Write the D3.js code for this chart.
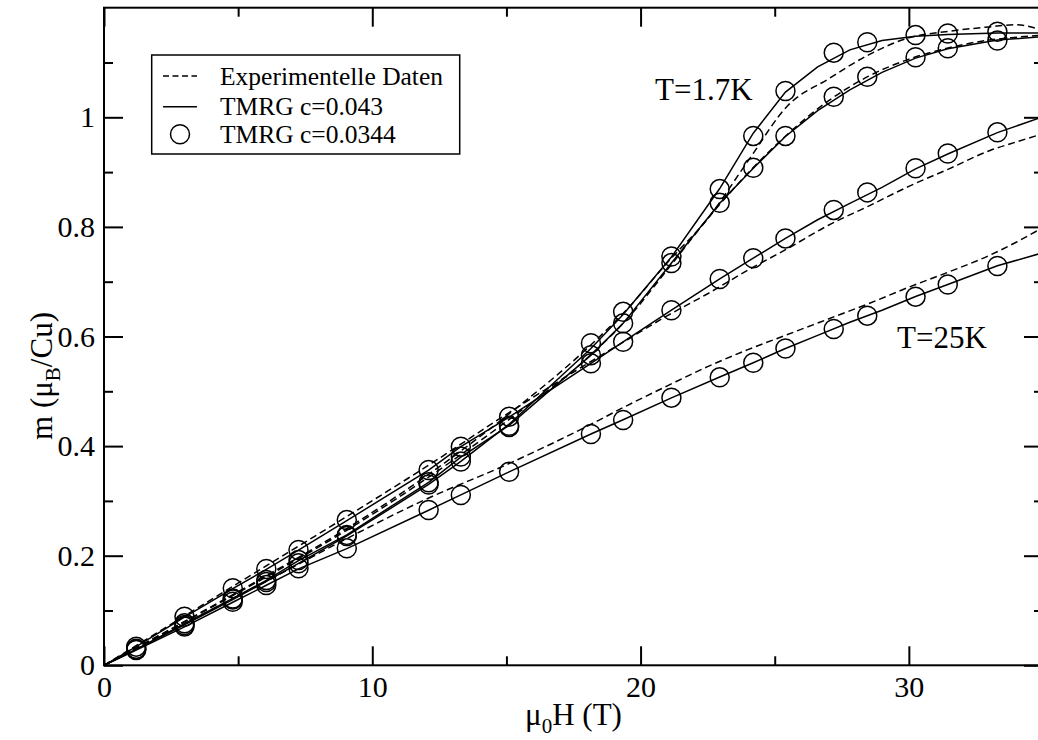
<!DOCTYPE html>
<html>
<head>
<meta charset="utf-8">
<script src="https://cdn.jsdelivr.net/npm/d3@7"></script>
<style>
  html, body { margin: 0; padding: 0; background: #fff; }
  svg { display: block; }
  text { font-family: "Liberation Serif", "Times New Roman", serif; fill: #000; }
</style>
</head>
<body>
<svg id="chart" width="1038" height="740"></svg>
<script>
// Field values (T) at which the TMRG c=0.0344 points were computed
const circleField = [1.2, 3.0, 4.8, 6.05, 7.25, 9.05, 12.1, 13.3, 15.1, 18.15, 19.35, 21.15, 22.95, 24.2, 25.4, 27.2, 28.45, 30.25, 31.45, 33.3];
// TMRG c=0.0344 magnetization (muB/Cu)
const circleT17 = [0.030, 0.0735, 0.120, 0.152, 0.186, 0.236, 0.330, 0.372, 0.435, 0.5876, 0.645, 0.746, 0.869, 0.966, 1.048, 1.118, 1.137, 1.150, 1.153, 1.156];
const circleT2 = [0.029, 0.0766, 0.122, 0.1556, 0.192, 0.238, 0.334, 0.381, 0.437, 0.566, 0.624, 0.734, 0.844, 0.908, 0.966, 1.0376, 1.074, 1.1095, 1.126, 1.140];
const circleT3 = [0.034, 0.0887, 0.1405, 0.1757, 0.2104, 0.265, 0.3564, 0.399, 0.4537, 0.551, 0.5905, 0.648, 0.705, 0.7427, 0.779, 0.831, 0.863, 0.907, 0.934, 0.9726];
const circleT25 = [0.028, 0.0706, 0.116, 0.1465, 0.177, 0.2135, 0.2834, 0.3108, 0.3533, 0.422, 0.4476, 0.4884, 0.5255, 0.552, 0.578, 0.6137, 0.638, 0.6727, 0.695, 0.7287];

// TMRG c=0.043 curves
const tmrgField = [0, 1.2, 3.0, 4.8, 6.05, 7.25, 9.05, 12.1, 13.3, 15.1, 18.15, 19.35, 21.15, 22.95, 24.2, 25.4, 26.6, 27.8, 29.0, 30.25, 31.45, 33.3, 35];
const tmrgT17 = [0, 0.029, 0.074, 0.120, 0.153, 0.186, 0.236, 0.330, 0.372, 0.440, 0.578, 0.640, 0.745, 0.870, 0.971, 1.046, 1.092, 1.123, 1.140, 1.148, 1.151, 1.154, 1.154];
const tmrgT2 = [0, 0.029, 0.076, 0.122, 0.155, 0.191, 0.238, 0.334, 0.380, 0.438, 0.566, 0.624, 0.734, 0.843, 0.907, 0.965, 1.012, 1.050, 1.082, 1.108, 1.125, 1.141, 1.147];
const tmrgT3 = [0, 0.034, 0.088, 0.140, 0.175, 0.210, 0.264, 0.356, 0.399, 0.453, 0.551, 0.590, 0.648, 0.705, 0.743, 0.779, 0.813, 0.843, 0.872, 0.906, 0.933, 0.972, 1.001];
const tmrgT25 = [0, 0.028, 0.070, 0.115, 0.146, 0.176, 0.213, 0.283, 0.311, 0.353, 0.422, 0.448, 0.488, 0.526, 0.552, 0.578, 0.602, 0.626, 0.648, 0.673, 0.695, 0.729, 0.753];

// Experimental magnetization curves
const expField = [0, 3, 6, 9, 12, 15, 18, 19.5, 21, 22.5, 24, 25.5, 27, 28.5, 30, 31.5, 33, 34, 35];
const expT17 = [0, 0.080, 0.162, 0.248, 0.345, 0.455, 0.578, 0.650, 0.735, 0.815, 0.920, 1.022, 1.070, 1.114, 1.145, 1.157, 1.165, 1.169, 1.158];
const expT2 = [0, 0.079, 0.160, 0.245, 0.340, 0.445, 0.560, 0.632, 0.722, 0.815, 0.898, 0.970, 1.030, 1.075, 1.106, 1.127, 1.141, 1.146, 1.150];
const expT3 = [0, 0.090, 0.180, 0.270, 0.362, 0.458, 0.550, 0.594, 0.638, 0.678, 0.721, 0.761, 0.803, 0.838, 0.874, 0.906, 0.939, 0.955, 0.970];
const expT25 = [0, 0.076, 0.152, 0.230, 0.303, 0.366, 0.436, 0.474, 0.510, 0.545, 0.576, 0.604, 0.632, 0.660, 0.690, 0.718, 0.748, 0.772, 0.799];

// Axis ticks and labels
const xMajor = [0, 10, 20, 30];
const xMinor = [5, 15, 25, 35];
const yMajor = [0, 0.2, 0.4, 0.6, 0.8, 1.0];
const yMinor = [0.1, 0.3, 0.5, 0.7, 0.9, 1.1];
const legendLabels = ["Experimentelle Daten", "TMRG c=0.043", "TMRG c=0.0344"];
const curveLabels = [{text: "T=1.7K", x: 655, y: 100}, {text: "T=25K", x: 897, y: 348}];

const svg = d3.select("#chart");
const plotLeft = 104, plotRight = 1043, plotTop = 7.7, plotBottom = 665.3;
const x = d3.scaleLinear().domain([0, 35]).range([plotLeft, plotRight]);
const y = d3.scaleLinear().domain([0, 1.2]).range([plotBottom, plotTop]);

svg.append("defs").append("clipPath").attr("id", "plotClip")
  .append("rect").attr("x", plotLeft).attr("y", plotTop)
  .attr("width", plotRight - plotLeft).attr("height", plotBottom - plotTop);

const plot = svg.append("g").attr("clip-path", "url(#plotClip)");

const line = d3.line().x(d => x(d[0])).y(d => y(d[1]));
const smooth = d3.line().x(d => x(d[0])).y(d => y(d[1])).curve(d3.curveMonotoneX);

// experimental (dashed)
[expT17, expT2, expT3, expT25].forEach(vals => {
  plot.append("path")
    .datum(expField.map((f, i) => [f, vals[i]]))
    .attr("d", smooth)
    .attr("fill", "none").attr("stroke", "#000").attr("stroke-width", 1.5)
    .attr("stroke-dasharray", "7,4");
});

// TMRG c=0.043 (solid)
[tmrgT17, tmrgT2, tmrgT3, tmrgT25].forEach(vals => {
  plot.append("path")
    .datum(tmrgField.map((f, i) => [f, vals[i]]))
    .attr("d", line)
    .attr("fill", "none").attr("stroke", "#000").attr("stroke-width", 1.5);
});

// TMRG c=0.0344 (circles)
[circleT17, circleT2, circleT3, circleT25].forEach(vals => {
  plot.append("g").selectAll("circle")
    .data(circleField.map((f, i) => [f, vals[i]]))
    .join("circle")
    .attr("cx", d => x(d[0])).attr("cy", d => y(d[1])).attr("r", 9.5)
    .attr("fill", "none").attr("stroke", "#000").attr("stroke-width", 1.5);
});

// axes: ticks on all four sides, pointing inward
const fmt = d => d3.format("~g")(d);
function styleAxis(g) {
  g.select(".domain").remove();
  g.selectAll(".tick line").attr("stroke", "#000").attr("stroke-width", 2);
  g.selectAll(".tick text").attr("font-size", 30)
    .attr("font-family", "Liberation Serif, Times New Roman, serif").attr("fill", "#000");
}
svg.append("g").attr("transform", `translate(0,${plotBottom})`)
  .call(d3.axisBottom(x).tickValues(xMajor).tickSizeInner(-19).tickSizeOuter(0).tickPadding(10).tickFormat(fmt)).call(styleAxis);
svg.append("g").attr("transform", `translate(0,${plotBottom})`)
  .call(d3.axisBottom(x).tickValues(xMinor).tickSizeInner(-9).tickSizeOuter(0).tickFormat("")).call(styleAxis);
svg.append("g").attr("transform", `translate(0,${plotTop})`)
  .call(d3.axisTop(x).tickValues(xMajor).tickSizeInner(-19).tickSizeOuter(0).tickFormat("")).call(styleAxis);
svg.append("g").attr("transform", `translate(0,${plotTop})`)
  .call(d3.axisTop(x).tickValues(xMinor).tickSizeInner(-9).tickSizeOuter(0).tickFormat("")).call(styleAxis);
svg.append("g").attr("transform", `translate(${plotLeft},0)`)
  .call(d3.axisLeft(y).tickValues(yMajor).tickSizeInner(-19).tickSizeOuter(0).tickPadding(9).tickFormat(fmt)).call(styleAxis);
svg.append("g").attr("transform", `translate(${plotLeft},0)`)
  .call(d3.axisLeft(y).tickValues(yMinor).tickSizeInner(-9).tickSizeOuter(0).tickFormat("")).call(styleAxis);
svg.append("g").attr("transform", `translate(${plotRight},0)`)
  .call(d3.axisRight(y).tickValues(yMajor).tickSizeInner(-19).tickSizeOuter(0).tickFormat("")).call(styleAxis);
svg.append("g").attr("transform", `translate(${plotRight},0)`)
  .call(d3.axisRight(y).tickValues(yMinor).tickSizeInner(-9).tickSizeOuter(0).tickFormat("")).call(styleAxis);

// frame
svg.append("rect").attr("x", plotLeft).attr("y", plotTop)
  .attr("width", plotRight - plotLeft).attr("height", plotBottom - plotTop)
  .attr("fill", "none").attr("stroke", "#000").attr("stroke-width", 2);

// axis titles
const xt = svg.append("text").attr("x", (plotLeft + plotRight) / 2).attr("y", 725)
  .attr("text-anchor", "middle").attr("font-size", 31);
xt.append("tspan").text("μ");
xt.append("tspan").attr("font-size", 21).attr("dy", 8).text("0");
xt.append("tspan").attr("dy", -8).text("H (T)");

const yt = svg.append("text").attr("transform", "translate(52,376) rotate(-90)")
  .attr("text-anchor", "middle").attr("font-size", 31);
yt.append("tspan").text("m (μ");
yt.append("tspan").attr("font-size", 21).attr("dy", 8).text("B");
yt.append("tspan").attr("dy", -8).text("/Cu)");

// curve annotations
curveLabels.forEach(c => {
  svg.append("text").attr("x", c.x).attr("y", c.y).attr("font-size", 31).text(c.text);
});

// legend
const lg = svg.append("g");
lg.append("rect").attr("x", 151.7).attr("y", 55).attr("width", 308).attr("height", 99)
  .attr("fill", "#fff").attr("stroke", "#000").attr("stroke-width", 1.5);
const rowY = [76, 106.7, 134.3];
lg.append("line").attr("x1", 163).attr("x2", 197).attr("y1", rowY[0]).attr("y2", rowY[0])
  .attr("stroke", "#000").attr("stroke-width", 1.5).attr("stroke-dasharray", "6,3.5");
lg.append("line").attr("x1", 163).attr("x2", 197).attr("y1", rowY[1]).attr("y2", rowY[1])
  .attr("stroke", "#000").attr("stroke-width", 1.5);
lg.append("circle").attr("cx", 180).attr("cy", rowY[2]).attr("r", 9.5)
  .attr("fill", "none").attr("stroke", "#000").attr("stroke-width", 1.5);
legendLabels.forEach((t, i) => {
  lg.append("text").attr("x", 220).attr("y", rowY[i] + 8.5).attr("font-size", 25.5).text(t);
});
</script>
</body>
</html>
